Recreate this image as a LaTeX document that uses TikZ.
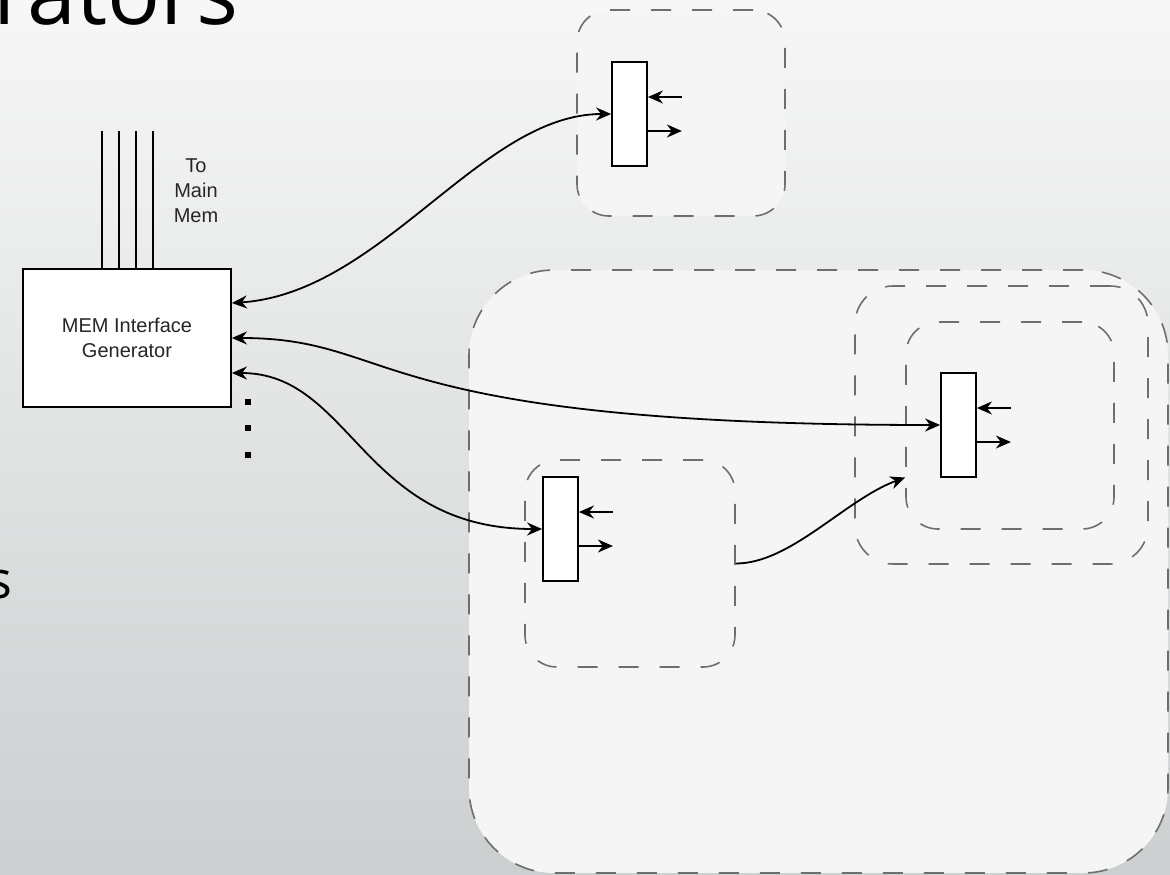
\documentclass[tikz,border=0pt]{standalone}
\usepackage{fontspec}
\setmainfont{Liberation Sans}
\newfontfamily\slidefont{Open Sans}
\usetikzlibrary{positioning,arrows.meta}
\definecolor{bgtop}{HTML}{F7F7F7}
\definecolor{bgbot}{HTML}{CBCFCF}
\definecolor{cellbg}{HTML}{F5F5F5}
\definecolor{dashgray}{HTML}{6E6E6E}
\tikzset{
  cell/.style={draw=dashgray, line width=1.6pt, dash pattern=on 20pt off 21pt, rounded corners=#1, fill=cellbg, inner sep=0pt},
  cell/.default=32pt,
  regbox/.style={draw, line width=1.8pt, fill=white, minimum width=35pt, minimum height=104pt, inner sep=0pt},
  membox/.style={draw, line width=1.8pt, fill=white, minimum width=208pt, minimum height=138pt, align=center, font=\fontsize{20}{25}\selectfont, text=black!85},
  wire/.style={line width=1.8pt},
  dot/.style={fill, rectangle, minimum size=6.5pt, inner sep=0pt},
  link/.style={line width=1.8pt, {Stealth[length=15pt,width=13pt]}-{Stealth[length=15pt,width=13pt]}},
  arrow/.style={line width=1.8pt, -{Stealth[length=15pt,width=13pt]}}
}

\begin{document}
\begin{tikzpicture}[x=1pt,y=-1pt]
  \useasboundingbox (0,0) rectangle (1170,875);
  \shade[top color=bgtop, bottom color=bgbot] (0,0) rectangle (1170,875);

  \node[font=\slidefont\fontsize{88}{100}\selectfont, anchor=base west, inner sep=0pt] (title) at (-7,25) {rators};
  \node[font=\slidefont\fontsize{52}{60}\selectfont, anchor=base east, inner sep=0pt] (bullet) at (12.6,598) {s};

  \node[cell=85pt, minimum width=699pt, minimum height=603pt] (outer) at (818.5,571.5) {};
  \node[cell=38pt, minimum width=293pt, minimum height=278pt] (grpC) at (1001.5,425) {};
  \node[cell, minimum width=208pt, minimum height=207pt] (cellC) at (1010,425.5) {};
  \node[cell, minimum width=208pt, minimum height=206pt] (cellA) at (681,113) {};
  \node[cell, minimum width=210pt, minimum height=207pt] (cellB) at (630,563.5) {};

  \node[membox] (mem) at (127,338) {MEM Interface\\Generator};
  \foreach \dx [count=\i] in {-25,-8,9,26} {
    \coordinate (bus\i) at (127+\dx,131);
    \draw[wire] (bus\i) -- (bus\i |- mem.north);
  }
  \node[font=\fontsize{20}{25}\selectfont, align=center, text=black!85] (tomem) at (196,191) {To\\Main\\Mem};
  \foreach \y [count=\i] in {402,428,455}
    \node[dot] (dot\i) at (248,\y) {};

  \node[regbox] (regA) at (629.5,114) {};
  \node[regbox] (regB) at (560.5,529) {};
  \node[regbox] (regC) at (958.5,425) {};

  \draw[link] ([yshift=35pt]mem.east) .. controls +(150,-10) and +(-130,0) .. (regA.west);
  \draw[link] (mem.east) .. controls +(170,0) and +(-580,0) .. (regC.west);
  \draw[link] ([yshift=-35pt]mem.east) .. controls +(120,0) and +(-180,0) .. (regB.west);
  \draw[arrow] (cellB.east) .. controls +(55,0) and +(-60,22) .. ([yshift=-52pt]cellC.west);

  \foreach \r in {regA,regB,regC} {
    \coordinate (\r-in) at ([shift={(34,-17)}]\r.east);
    \coordinate (\r-out) at ([shift={(34,17)}]\r.east);
    \draw[arrow] (\r-in) -- (\r-in -| \r.east);
    \draw[arrow] (\r-out -| \r.east) -- (\r-out);
  }
\end{tikzpicture}
\end{document}
